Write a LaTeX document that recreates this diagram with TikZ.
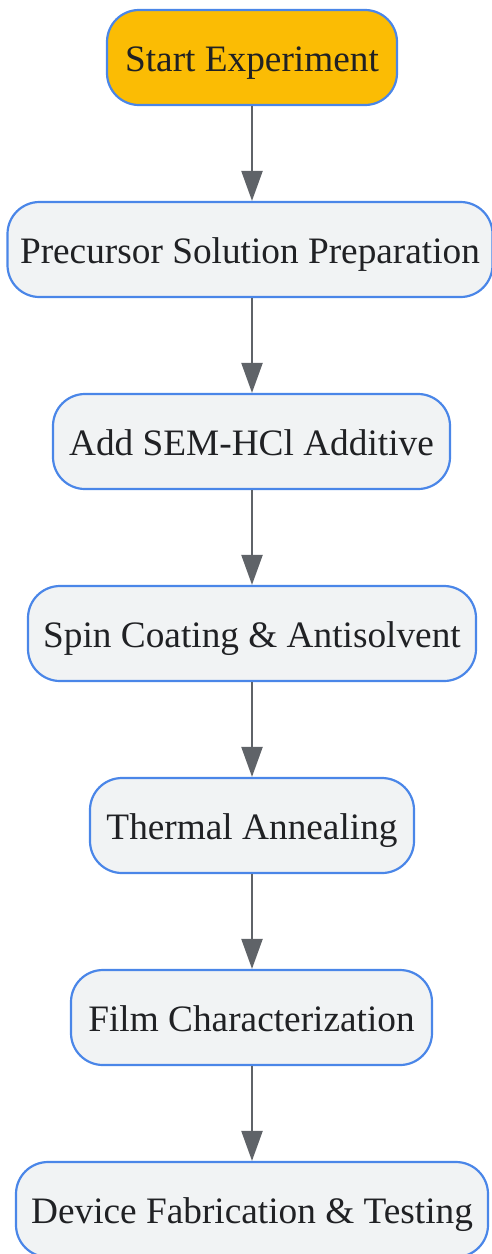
\documentclass[tikz,border=0pt]{standalone}
\usepackage{fontspec}
\setmainfont{Liberation Serif}
\usetikzlibrary{arrows.meta}
\definecolor{bordblue}{HTML}{4A86E8}
\definecolor{startfill}{HTML}{FBBC04}
\definecolor{stepfill}{HTML}{F1F3F4}
\definecolor{arrowgray}{HTML}{5F6368}
\definecolor{txt}{HTML}{202124}
\tikzset{
  box/.style={draw=bordblue, line width=2.2pt, rounded corners=32pt, inner sep=0pt,
    minimum height=95pt, text height=28.4pt, text depth=0pt,
    fill=stepfill, text=txt, font=\fontsize{37.3}{40}\selectfont},
  startbox/.style={box, fill=startfill},
  flow/.style={draw=arrowgray, line width=2.2pt, -{Triangle[width=21pt,length=30pt]}}
}
\begin{document}
\begin{tikzpicture}[x=1pt,y=-1pt]
\useasboundingbox (0,0) rectangle (492,1254);
\node[startbox, minimum width=290pt] (s) at (252,57.5) {Start Experiment};
\node[box, minimum width=485pt] (p) at (250,249.5) {Precursor Solution Preparation};
\node[box, minimum width=397pt] (a) at (251.5,441.5) {Add SEM-HCl Additive};
\node[box, minimum width=448pt] (c) at (252,633.5) {Spin Coating \& Antisolvent};
\node[box, minimum width=324pt] (t) at (252,825.5) {Thermal Annealing};
\node[box, minimum width=361pt] (f) at (251.5,1017.5) {Film Characterization};
\node[box, minimum width=472pt] (d) at (252,1209.5) {Device Fabrication \& Testing};
\draw[flow] (s.south) -- (s.south |- p.north);
\draw[flow] (s.south |- p.south) -- (s.south |- a.north);
\draw[flow] (s.south |- a.south) -- (s.south |- c.north);
\draw[flow] (c.south) -- (c.south |- t.north);
\draw[flow] (t.south) -- (t.south |- f.north);
\draw[flow] (s.south |- f.south) -- (s.south |- d.north);
\end{tikzpicture}
\end{document}
